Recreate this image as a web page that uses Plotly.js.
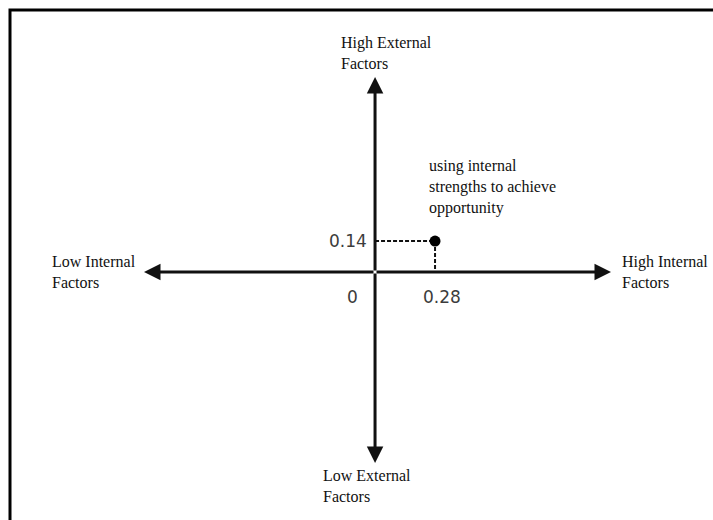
<!DOCTYPE html>
<html>
<head>
<meta charset="utf-8">
<script src="https://cdn.plot.ly/plotly-3.0.1.min.js"></script>
<style>
  body { margin: 0; background: #fff; }
  #plotArea { width: 713px; height: 520px; }
</style>
</head>
<body>
<div id="plotArea"></div>
<script>
// the one plotted point (internal, external)
var pointX = [0.28];
var pointY = [0.14];
var originLabel = "0";
var pointNote = "using internal<br>strengths to achieve<br>opportunity";

// axis end labels
var axisLabels = {
  top: "High External<br>Factors",
  bottom: "Low External<br>Factors",
  left: "Low Internal<br>Factors",
  right: "High Internal<br>Factors"
};

var serif = "'Liberation Serif', 'Times New Roman', serif";
var numFont = { family: "'DejaVu Sans', sans-serif", size: 17, color: "#3c3c3c" };

// dashed guide lines from the point back to both axes
var guides = {
  x: [0, pointX[0], pointX[0]],
  y: [pointY[0], pointY[0], 0],
  mode: "lines",
  type: "scatter",
  line: { color: "#111", width: 2, dash: "4px,2px" },
  hoverinfo: "skip"
};

var dot = {
  x: pointX,
  y: pointY,
  mode: "markers",
  type: "scatter",
  marker: { color: "#000", size: 11 },
  hoverinfo: "skip"
};

function arrow(opts) {
  return Object.assign({
    text: "", showarrow: true, arrowhead: 2, arrowsize: 1.1,
    arrowwidth: 3, arrowcolor: "#111", ax: 0, ay: 0
  }, opts);
}

function note(text, x, y) {
  return {
    text: text, xref: "paper", yref: "paper", x: x, y: y,
    xanchor: "left", yanchor: "top", align: "left", showarrow: false,
    font: { family: serif, size: 16, color: "#111" }
  };
}

var annotations = [
  // axes drawn as arrows out from the origin
  arrow({ xref: "paper", yref: "y", x: 611 / 713, y: 0, ax: -236 }),
  arrow({ xref: "paper", yref: "y", x: 144 / 713, y: 0, ax: 231 }),
  arrow({ xref: "x", yref: "paper", x: 0, y: 1 - 77 / 520, ay: 195 }),
  arrow({ xref: "x", yref: "paper", x: 0, y: 1 - 463 / 520, ay: -191 }),

  note(axisLabels.top, 339 / 713, 1 - 32 / 520),
  note(axisLabels.bottom, 321 / 713, 1 - 465 / 520),
  note(axisLabels.left, 50 / 713, 1 - 251 / 520),
  note(axisLabels.right, 620 / 713, 1 - 251 / 520),
  note(pointNote, 427 / 713, 1 - 155 / 520),

  { text: String(pointY[0]), x: 0, y: pointY[0], xanchor: "right", xshift: -6,
    showarrow: false, font: numFont },
  { text: String(pointX[0]), x: pointX[0], y: 0, xshift: 7, yshift: -25,
    showarrow: false, font: numFont },
  { text: originLabel, x: 0, y: 0, xshift: -23, yshift: -25,
    showarrow: false, font: numFont }
];

var layout = {
  width: 713,
  height: 520,
  margin: { l: 0, r: 0, t: 0, b: 0 },
  paper_bgcolor: "#fff",
  plot_bgcolor: "#fff",
  showlegend: false,
  xaxis: { range: [-1.75, 1.577], visible: false, fixedrange: true },
  yaxis: { range: [-1.12, 1.2286], visible: false, fixedrange: true },
  annotations: annotations,
  shapes: [{
    type: "rect", xref: "paper", yref: "paper",
    x0: 10 / 713, x1: 1.05, y0: -0.05, y1: 1 - 10 / 520,
    line: { color: "#000", width: 3 }
  }]
};

Plotly.newPlot("plotArea", [guides, dot], layout, { staticPlot: true });
</script>
</body>
</html>
